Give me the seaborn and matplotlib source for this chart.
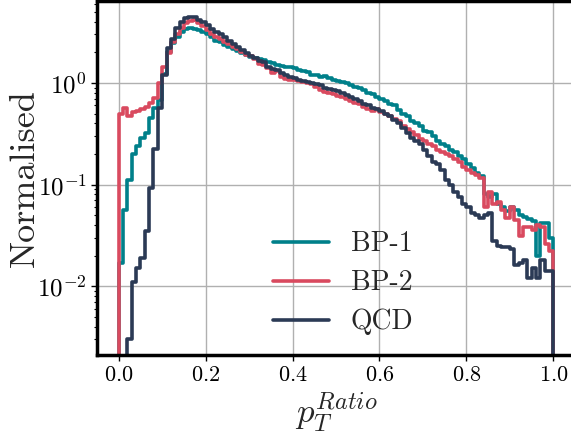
import numpy as np
import pandas as pd
import seaborn as sns
import matplotlib.pyplot as plt

# bin edges: 0.00 ... 1.00 in steps of 0.01 (plus one empty bin each side)
edges = np.linspace(-0.01, 1.01, 103)
centres = (edges[:-1] + edges[1:]) / 2

bp1 = [0.017, 0.056, 0.11, 0.20, 0.24, 0.29, 0.32, 0.45, 0.57, 0.68,
       1.22, 2.00, 2.45, 2.85, 3.20, 3.40, 3.45, 3.40, 3.30, 3.15,
       3.00, 2.80, 2.60, 2.50, 2.35, 2.25, 2.15, 2.05, 1.98, 1.90,
       1.80, 1.75, 1.70, 1.68, 1.62, 1.58, 1.50, 1.48, 1.45, 1.42,
       1.40, 1.33, 1.30, 1.28, 1.20, 1.20, 1.15, 1.17, 1.12, 1.08,
       1.05, 1.03, 1.00, 0.96, 0.92, 0.90, 0.86, 0.80, 0.77, 0.72,
       0.70, 0.67, 0.62, 0.60, 0.54, 0.50, 0.47, 0.42, 0.40, 0.38,
       0.34, 0.33, 0.30, 0.27, 0.25, 0.24, 0.22, 0.21, 0.19, 0.18,
       0.16, 0.145, 0.13, 0.12, 0.08, 0.075, 0.08, 0.065, 0.06, 0.055,
       0.06, 0.056, 0.05, 0.048, 0.046, 0.044, 0.020, 0.042, 0.042, 0.030]

bp2 = [0.50, 0.57, 0.47, 0.52, 0.53, 0.55, 0.58, 0.64, 0.71, 1.00,
       1.43, 1.97, 2.50, 3.00, 3.50, 3.90, 4.10, 4.15, 3.85, 3.60,
       3.35, 3.05, 2.85, 2.70, 2.55, 2.40, 2.25, 2.15, 2.00, 1.90,
       1.82, 1.72, 1.55, 1.50, 1.40, 1.24, 1.32, 1.15, 1.10, 1.08,
       1.07, 1.05, 1.02, 1.00, 0.97, 0.92, 0.86, 0.81, 0.80, 0.77,
       0.75, 0.72, 0.70, 0.66, 0.64, 0.62, 0.58, 0.55, 0.53, 0.55,
       0.52, 0.49, 0.47, 0.44, 0.42, 0.38, 0.35, 0.33, 0.31, 0.28,
       0.27, 0.25, 0.24, 0.22, 0.21, 0.20, 0.19, 0.18, 0.165, 0.15,
       0.14, 0.13, 0.125, 0.117, 0.06, 0.085, 0.065, 0.068, 0.056, 0.047,
       0.06, 0.045, 0.031, 0.038, 0.038, 0.036, 0.040, 0.038, 0.026, 0.022]

qcd = [0.0, 0.0, 0.003, 0.011, 0.015, 0.019, 0.035, 0.092, 0.225, 0.57,
       1.2, 2.2, 2.7, 3.5, 4.0, 4.35, 4.45, 4.5, 4.2, 3.95,
       3.75, 3.4, 3.2, 3.0, 2.8, 2.6, 2.4, 2.25, 2.1, 1.98,
       1.85, 1.76, 1.65, 1.60, 1.45, 1.38, 1.35, 1.25, 1.20, 1.15,
       1.12, 1.08, 1.05, 1.02, 1.00, 0.98, 0.95, 0.90, 0.87, 0.85,
       0.83, 0.80, 0.76, 0.73, 0.70, 0.67, 0.62, 0.60, 0.57, 0.55,
       0.53, 0.50, 0.47, 0.43, 0.40, 0.36, 0.32, 0.29, 0.27, 0.25,
       0.22, 0.19, 0.165, 0.16, 0.14, 0.11, 0.10, 0.085, 0.075, 0.065,
       0.060, 0.052, 0.050, 0.047, 0.050, 0.052, 0.028, 0.025, 0.024, 0.024,
       0.023, 0.016, 0.017, 0.018, 0.012, 0.015, 0.012, 0.018, 0.014, 0.014]

labels = ['BP-1', 'BP-2', 'QCD']
colours = ['#00808a', '#d94a5f', '#2b3a55']

sns.set_style('whitegrid')
plt.rcParams['font.family'] = 'serif'
plt.rcParams['font.serif'] = ['cmr10', 'DejaVu Serif']
plt.rcParams['mathtext.fontset'] = 'cm'
plt.rcParams['axes.formatter.use_mathtext'] = True

fig = plt.figure(figsize=(5.71, 4.37), dpi=100)
ax = fig.add_axes([97 / 571, 82 / 437, 478 / 571, 354 / 437])

for vals, lab, col in zip([bp1, bp2, qcd], labels, colours):
    df = pd.DataFrame({'x': centres, 'w': np.concatenate([[0.0], vals, [0.0]])})
    sns.histplot(data=df, x='x', weights='w', bins=list(edges), element='step', fill=False,
                 color=col, linewidth=2.6, label=lab, ax=ax)

ax.set_yscale('log')
ax.set_xlim(-0.05, 1.05)
ax.set_ylim(2.1e-3, 6.4)
ax.grid(True, color='#b0b0b0', linewidth=1)
ax.set_axisbelow(True)

for s in ax.spines.values():
    s.set_color('black')
    s.set_linewidth(2.5)

ax.tick_params(axis='both', which='both', direction='out', colors='black',
               labelsize=16, bottom=True, left=True)
ax.tick_params(axis='y', labelsize=18)
ax.tick_params(axis='both', which='major', length=4, width=1)
ax.tick_params(axis='y', which='minor', length=2.5, width=0.8)

ax.set_xlabel(r'$p_T^{Ratio}$', fontsize=25, labelpad=4)
ax.set_ylabel('Normalised', fontsize=26)
ax.yaxis.set_label_coords(-0.118, 0.5)

ax.legend(loc='lower center', bbox_to_anchor=(0.515, -0.015), frameon=False,
          fontsize=20, labelspacing=0.45)

plt.savefig('out.png', dpi=100)
